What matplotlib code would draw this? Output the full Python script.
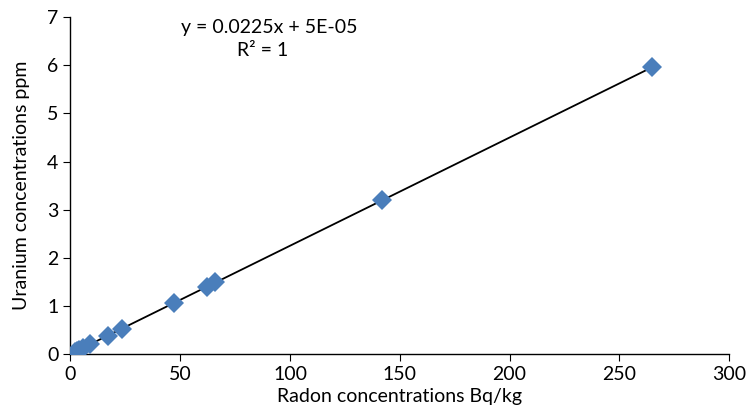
import matplotlib.pyplot as plt
import numpy as np

plt.rcParams['font.family'] = ['Lato', 'DejaVu Sans']

radon = [2, 3, 4, 6, 9, 17, 23.5, 47, 62, 66, 142, 265]
uranium = [0.045, 0.07, 0.09, 0.135, 0.2, 0.38, 0.53, 1.06, 1.39, 1.49, 3.2, 5.97]

slope = 0.0225
intercept = 5e-05

fig = plt.figure(figsize=(7.48, 4.19), dpi=100)
ax = fig.add_axes([0.094, 0.155, 0.881, 0.804])

xs = np.array([min(radon), max(radon)])
ax.plot(xs, slope * xs + intercept, color='black', linewidth=1.3, zorder=2)
ax.plot(radon, uranium, 'D', color='#4A7EBB', markersize=10, markeredgewidth=0, zorder=3)

ax.set_xlim(0, 300)
ax.set_ylim(0, 7)
ax.set_xticks(range(0, 301, 50))
ax.set_yticks(range(0, 8))
ax.tick_params(labelsize=14, direction='out', length=5, color='#000000')
for s in ['top', 'right']:
    ax.spines[s].set_visible(False)
for s in ['left', 'bottom']:
    ax.spines[s].set_color('#000000')
    ax.spines[s].set_linewidth(1)

ax.set_xlabel('Radon concentrations Bq/kg', fontsize=14, labelpad=4)
ax.set_ylabel('Uranium concentrations ppm', fontsize=14, labelpad=12)

ax.text(0.302, 0.970, 'y = 0.0225x + 5E-05', transform=ax.transAxes,
        fontsize=14, ha='center', va='center')
ax.text(0.292, 0.902, 'R² = 1', transform=ax.transAxes,
        fontsize=14, ha='center', va='center')

fig.savefig('out.png', dpi=100)
